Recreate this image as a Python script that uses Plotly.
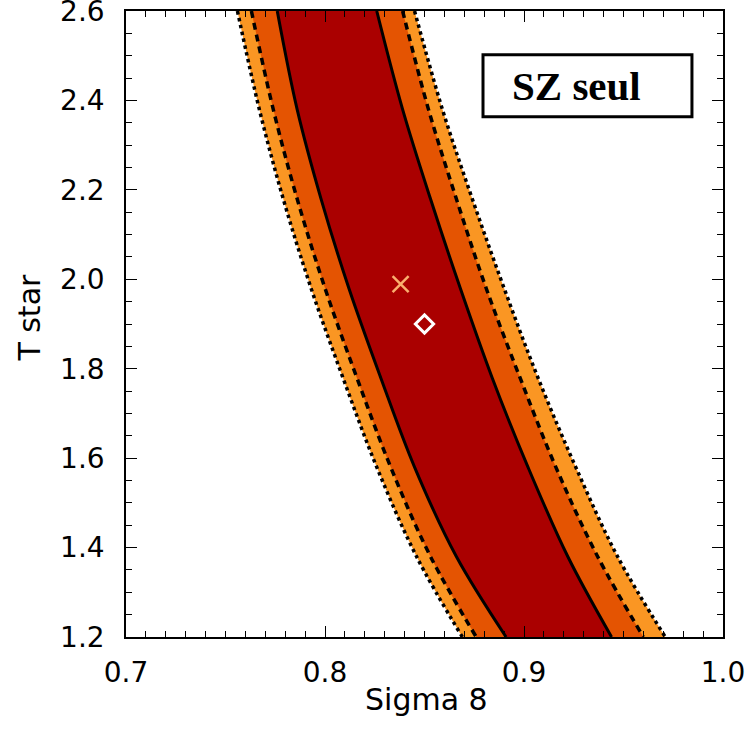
import plotly.graph_objects as go

# T star levels at which the contour boundaries were read
t_star = [2.6, 2.38, 2.18, 1.98, 1.78, 1.58, 1.38, 1.2]

# Sigma 8 positions of contour boundaries (left / right) for each confidence level
left_3 = [0.756, 0.767, 0.779, 0.793, 0.809, 0.826, 0.846, 0.869]
right_3 = [0.845, 0.859, 0.874, 0.890, 0.907, 0.926, 0.947, 0.971]
left_2 = [0.763, 0.774, 0.786, 0.800, 0.816, 0.833, 0.853, 0.876]
right_2 = [0.839, 0.852, 0.866, 0.881, 0.898, 0.916, 0.937, 0.960]
left_1 = [0.776, 0.786, 0.798, 0.812, 0.828, 0.845, 0.866, 0.891]
right_1 = [0.826, 0.839, 0.853, 0.868, 0.884, 0.902, 0.922, 0.944]

# markers
best_fit = (0.838, 1.989)
fiducial = (0.850, 1.900)

x_ticks = [0.7, 0.8, 0.9, 1.0]
x_ticklabels = ["0.7", "0.8", "0.9", "1.0"]
y_ticks = [1.2, 1.4, 1.6, 1.8, 2.0, 2.2, 2.4, 2.6]
y_ticklabels = ["1.2", "1.4", "1.6", "1.8", "2.0", "2.2", "2.4", "2.6"]

c3 = "rgb(250,150,35)"
c2 = "rgb(228,84,2)"
c1 = "rgb(170,0,0)"

fig = go.Figure()

# filled bands
for lft, rgt, col in [(left_3, right_3, c3), (left_2, right_2, c2), (left_1, right_1, c1)]:
    fig.add_trace(go.Scatter(x=lft, y=t_star, mode="lines", line=dict(width=0, shape="spline"),
                             showlegend=False, hoverinfo="skip"))
    fig.add_trace(go.Scatter(x=rgt, y=t_star, mode="lines", line=dict(width=0, shape="spline"),
                             fill="tonextx", fillcolor=col, showlegend=False, hoverinfo="skip"))

# contour lines
for xs, dash in [(left_3, "dot"), (right_3, "dot"), (left_2, "7px,5px"), (right_2, "7px,5px"),
                 (left_1, "solid"), (right_1, "solid")]:
    fig.add_trace(go.Scatter(x=xs, y=t_star, mode="lines",
                             line=dict(color="black", width=3.5 if dash != "solid" else 3, dash=dash, shape="spline"),
                             showlegend=False, hoverinfo="skip"))

fig.add_trace(go.Scatter(x=[best_fit[0]], y=[best_fit[1]], mode="markers",
                         marker=dict(symbol="x-thin", size=16, line=dict(color="rgb(250,175,110)", width=2.5)),
                         showlegend=False))
fig.add_trace(go.Scatter(x=[fiducial[0]], y=[fiducial[1]], mode="markers",
                         marker=dict(symbol="diamond-open", size=14, color="white", line=dict(color="white", width=3)),
                         showlegend=False))

axis_font = dict(family="DejaVu Sans", size=28, color="black")
fig.update_xaxes(range=[0.7, 1.0], tickvals=x_ticks, ticktext=x_ticklabels,
                 ticks="inside", ticklen=11, tickwidth=1, tickcolor="black",
                 minor=dict(dtick=0.01, ticks="inside", ticklen=6, tickcolor="black", tickwidth=1),
                 showline=True, linecolor="black", linewidth=1.5, mirror="ticks",
                 showgrid=False, zeroline=False, tickfont=axis_font, automargin=False,
                 ticklabelstandoff=10, ticklabeloverflow="allow")
fig.update_yaxes(range=[1.2, 2.6], tickvals=y_ticks, ticktext=y_ticklabels,
                 ticks="inside", ticklen=11, tickwidth=1, tickcolor="black",
                 minor=dict(dtick=0.05, ticks="inside", ticklen=6, tickcolor="black", tickwidth=1),
                 showline=True, linecolor="black", linewidth=1.5, mirror="ticks",
                 showgrid=False, zeroline=False, tickfont=axis_font, automargin=False,
                 ticklabelstandoff=14, ticklabeloverflow="allow")

title_font = dict(family="DejaVu Sans", size=30, color="black")
fig.add_annotation(xref="paper", yref="paper", x=0.504, y=-0.10, text="Sigma 8", showarrow=False,
                   font=title_font, xanchor="center", yanchor="middle")
fig.add_annotation(xref="paper", yref="paper", x=-0.161, y=0.51, text="T star", showarrow=False,
                   font=title_font, xanchor="center", yanchor="middle", textangle=-90)

fig.add_shape(type="rect", xref="paper", yref="paper", x0=0.598, x1=0.948, y0=0.831, y1=0.930,
              line=dict(color="black", width=3), fillcolor="white")
fig.add_annotation(xref="paper", yref="paper", x=0.755, y=0.880, text="<b>SZ seul</b>", showarrow=False,
                   font=dict(family="Liberation Serif", size=41, color="black"), xanchor="center", yanchor="middle")

fig.update_layout(width=749, height=731, margin=dict(l=126, r=26, t=11, b=94),
                  plot_bgcolor="white", paper_bgcolor="white")

fig.write_html("out.html", config={"displayModeBar": False},
               post_script="document.body.style.margin='0';")
